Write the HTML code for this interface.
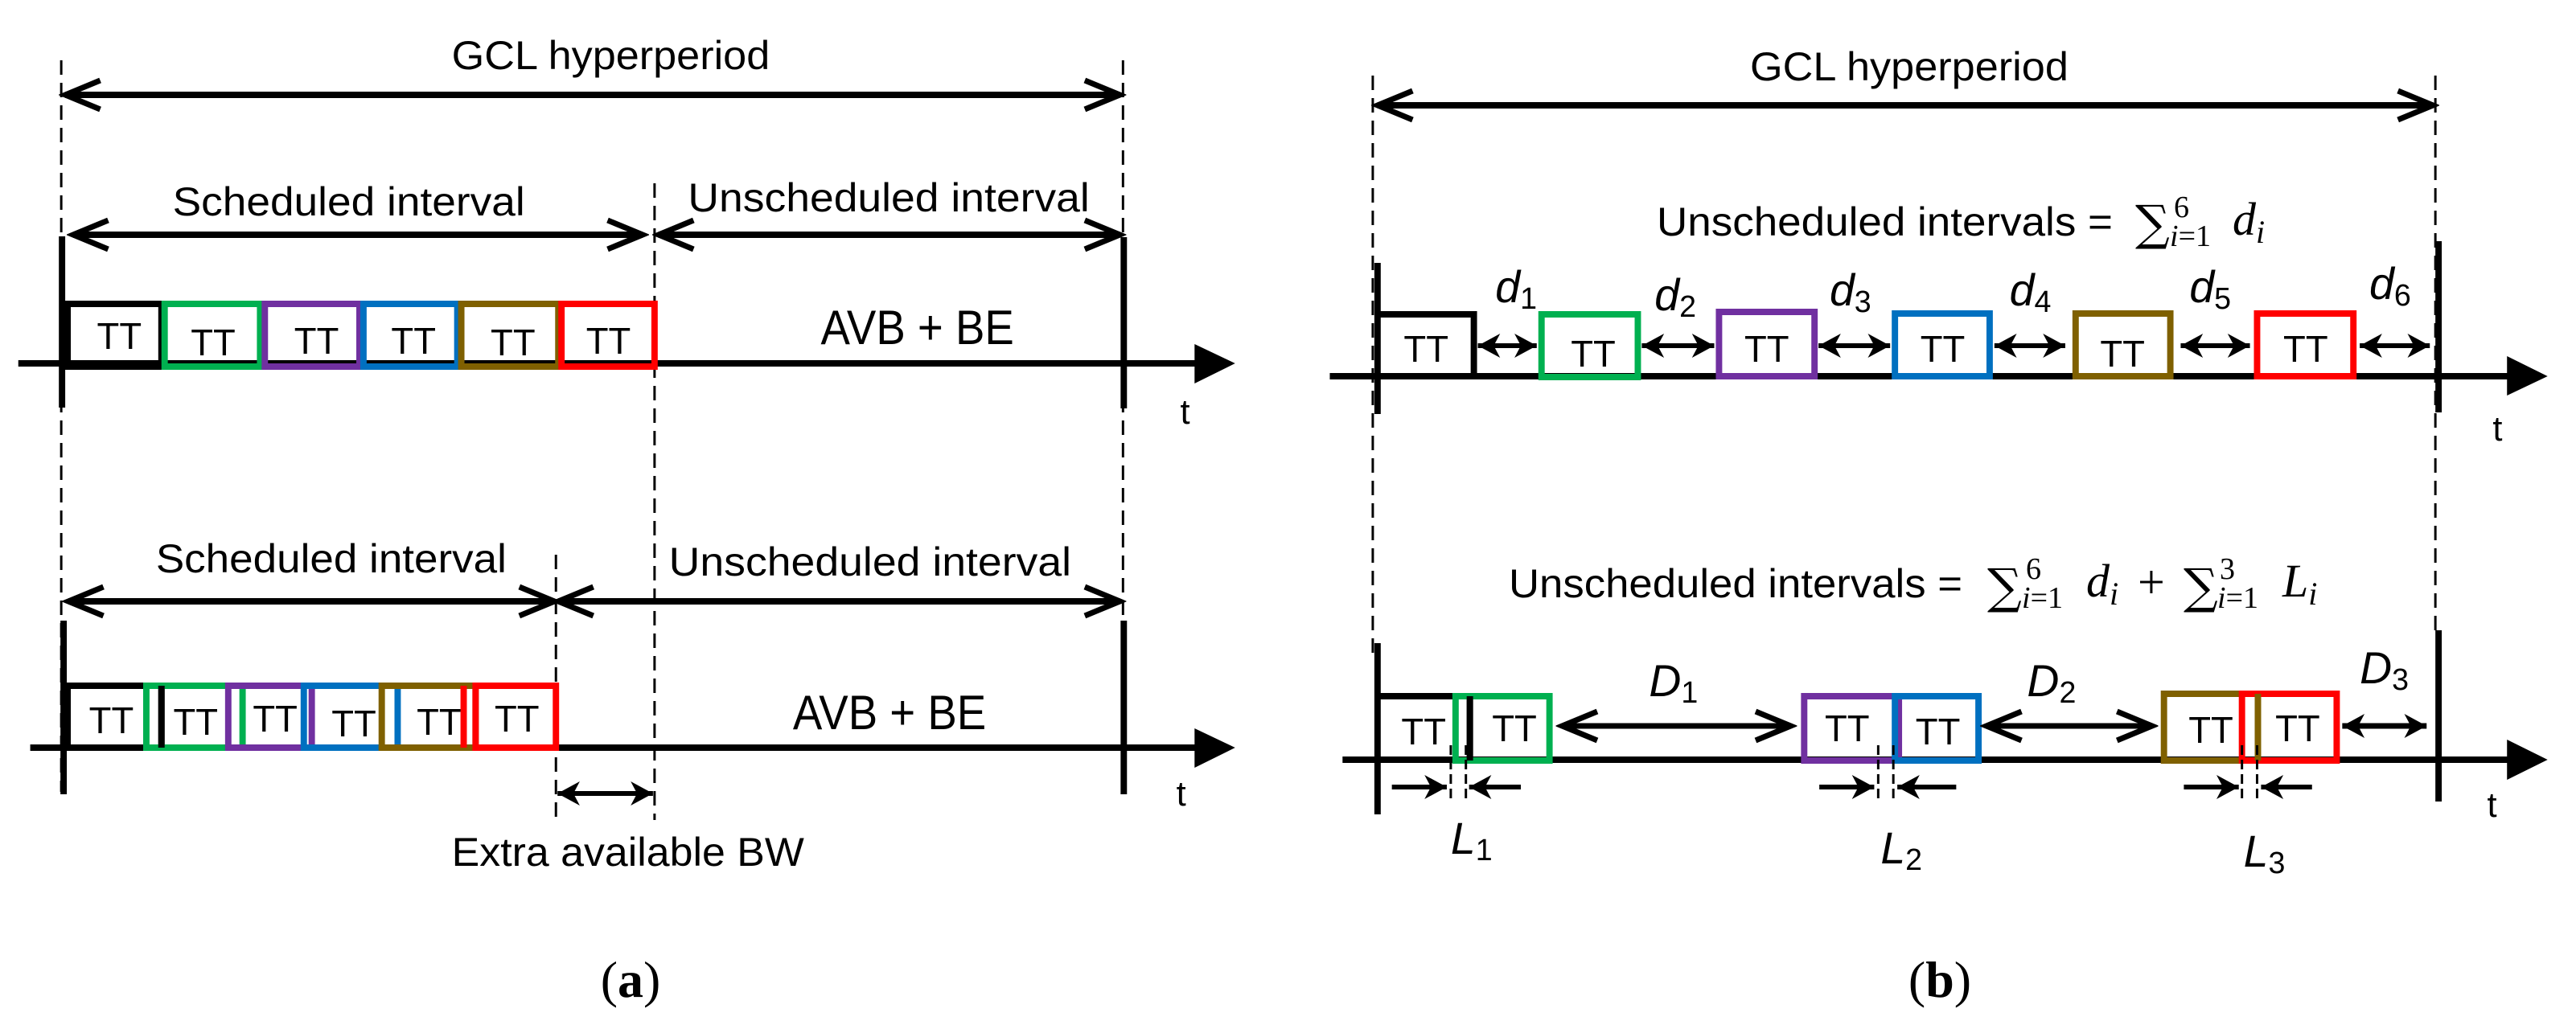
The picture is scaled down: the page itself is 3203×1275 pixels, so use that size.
<!DOCTYPE html>
<html><head><meta charset="utf-8"><style>
html,body{margin:0;padding:0;background:#fff;}
svg{display:block;}
text{font-family:"Liberation Sans Narrow","Liberation Sans",sans-serif;fill:#000;}
.m{font-family:"Liberation Serif",serif;font-style:italic;}
.tt{font-size:46px;text-anchor:middle;}
.s{font-family:"DejaVu Serif",serif;}
.r{font-family:"Liberation Serif",serif;}
</style></head><body>
<svg width="3203" height="1275" viewBox="0 0 3203 1275" xmlns="http://www.w3.org/2000/svg">
<defs>
<marker id="ch" markerUnits="userSpaceOnUse" viewBox="-52 -26 60 52" refX="0" refY="0" markerWidth="60" markerHeight="52" orient="auto-start-reverse">
<path d="M-44,-18 L0,0 L-44,18" fill="none" stroke="#000" stroke-width="7"/>
</marker>
<marker id="fh" markerUnits="userSpaceOnUse" viewBox="-32 -18 36 36" refX="0" refY="0" markerWidth="36" markerHeight="36" orient="auto-start-reverse">
<path d="M0,0 L-28,-15 L-20,0 L-28,15 Z" fill="#000"/>
</marker>
</defs>
<!-- ===== Panel a ===== -->
<g transform="scale(0.9889,1)">
<g fill="none" stroke="#000">
<line x1="77" y1="75" x2="77" y2="985" stroke-width="3" stroke-dasharray="18,10"/>
<line x1="1412" y1="75" x2="1412" y2="770" stroke-width="3" stroke-dasharray="18,10"/>
<line x1="823" y1="228" x2="823" y2="1020" stroke-width="3" stroke-dasharray="18,10"/>
<line x1="699" y1="690" x2="699" y2="1020" stroke-width="3" stroke-dasharray="18,10"/>
<line x1="82" y1="118" x2="1408" y2="118" stroke-width="8" marker-start="url(#ch)" marker-end="url(#ch)"/>
<line x1="92" y1="292" x2="808" y2="292" stroke-width="8" marker-start="url(#ch)" marker-end="url(#ch)"/>
<line x1="828" y1="292" x2="1408" y2="292" stroke-width="8" marker-start="url(#ch)" marker-end="url(#ch)"/>
<line x1="86" y1="748" x2="697" y2="748" stroke-width="8" marker-start="url(#ch)" marker-end="url(#ch)"/>
<line x1="702" y1="748" x2="1408" y2="748" stroke-width="8" marker-start="url(#ch)" marker-end="url(#ch)"/>
<line x1="701" y1="987" x2="821" y2="987" stroke-width="6" marker-start="url(#fh)" marker-end="url(#fh)"/>
<line x1="23" y1="452" x2="1505" y2="452" stroke-width="8"/>
<line x1="38" y1="930" x2="1505" y2="930" stroke-width="8"/>
<line x1="78" y1="294" x2="78" y2="507" stroke-width="8"/>
<line x1="1413" y1="295" x2="1413" y2="508" stroke-width="8"/>
<line x1="80" y1="772" x2="80" y2="988" stroke-width="8"/>
<line x1="1413" y1="772" x2="1413" y2="988" stroke-width="8"/>
<rect x="85" y="378" width="118" height="78" stroke="#000" stroke-width="8"/>
<rect x="207" y="378" width="120" height="78" stroke="#00b050" stroke-width="8"/>
<rect x="333" y="378" width="119" height="78" stroke="#7030a0" stroke-width="8"/>
<rect x="457" y="378" width="118" height="78" stroke="#0070c0" stroke-width="8"/>
<rect x="580" y="378" width="122" height="78" stroke="#7f6000" stroke-width="8"/>
<rect x="706" y="378" width="117" height="78" stroke="#ff0000" stroke-width="8"/>
<rect x="85" y="853" width="118" height="77" stroke="#000" stroke-width="8"/>
<rect x="184" y="853" width="121" height="77" stroke="#00b050" stroke-width="8"/>
<rect x="287" y="853" width="105" height="77" stroke="#7030a0" stroke-width="8"/>
<rect x="382" y="853" width="118" height="77" stroke="#0070c0" stroke-width="8"/>
<rect x="480" y="853" width="118" height="77" stroke="#7f6000" stroke-width="8"/>
<rect x="598" y="853" width="101" height="77" stroke="#ff0000" stroke-width="8"/>
<line x1="203" y1="853" x2="203" y2="930" stroke="#000" stroke-width="8"/>
<line x1="583" y1="853" x2="583" y2="930" stroke="#ff0000" stroke-width="8"/>
</g>
<polygon points="1502,428 1553,452 1502,477" fill="#000"/>
<polygon points="1502,906 1553,930 1502,955" fill="#000"/>
<text x="568" y="86" font-size="50" textLength="400" lengthAdjust="spacingAndGlyphs">GCL hyperperiod</text>
<text x="217" y="268" font-size="50" textLength="443" lengthAdjust="spacingAndGlyphs">Scheduled interval</text>
<text x="865" y="263" font-size="50" textLength="505" lengthAdjust="spacingAndGlyphs">Unscheduled interval</text>
<text x="196" y="712" font-size="50" textLength="441" lengthAdjust="spacingAndGlyphs">Scheduled interval</text>
<text x="841" y="716" font-size="50" textLength="506" lengthAdjust="spacingAndGlyphs">Unscheduled interval</text>
<text x="1032" y="428" font-size="60" textLength="243" lengthAdjust="spacingAndGlyphs">AVB + BE</text>
<text x="997" y="907" font-size="60" textLength="243" lengthAdjust="spacingAndGlyphs">AVB + BE</text>
<text x="1484" y="527" font-size="44">t</text>
<text x="1479" y="1002" font-size="44">t</text>
<text x="568" y="1077" font-size="50" textLength="443" lengthAdjust="spacingAndGlyphs">Extra available BW</text>
<g class="tt">
<text x="150" y="434">TT</text><text x="268" y="442">TT</text><text x="398" y="440">TT</text><text x="520" y="440">TT</text><text x="645" y="442">TT</text><text x="765" y="440">TT</text>
<text x="140" y="912">TT</text><text x="246" y="914">TT</text><text x="346" y="910">TT</text><text x="445" y="916">TT</text><text x="552" y="914">TT</text><text x="650" y="910">TT</text>
</g>
</g>
<text x="784" y="1240" font-size="64" text-anchor="middle" class="r">(<tspan font-weight="bold">a</tspan>)</text>

<!-- ===== Panel b ===== -->
<g transform="translate(16.5,0) scale(0.9897,1)">
<g fill="none" stroke="#000">
<line x1="1708" y1="94" x2="1708" y2="820" stroke-width="3" stroke-dasharray="18,10"/>
<line x1="3043" y1="94" x2="3043" y2="785" stroke-width="3" stroke-dasharray="18,10"/>
<line x1="1714" y1="131" x2="3040" y2="131" stroke-width="8" marker-start="url(#ch)" marker-end="url(#ch)"/>
<line x1="1654" y1="468" x2="3140" y2="468" stroke-width="8"/>
<line x1="1670" y1="945" x2="3140" y2="945" stroke-width="8"/>
<line x1="1714" y1="327" x2="1714" y2="515" stroke-width="8"/>
<line x1="3047" y1="300" x2="3047" y2="513" stroke-width="8"/>
<line x1="1714" y1="800" x2="1714" y2="1013" stroke-width="8"/>
<line x1="3047" y1="784" x2="3047" y2="997" stroke-width="8"/>
<path d="M1714,391 H1835 V469" stroke-width="8"/>
<rect x="1920" y="391" width="121" height="78" stroke="#00b050" stroke-width="8"/>
<rect x="2143" y="388" width="120" height="80" stroke="#7030a0" stroke-width="8"/>
<rect x="2364" y="390" width="119" height="78" stroke="#0070c0" stroke-width="8"/>
<rect x="2591" y="390" width="119" height="78" stroke="#7f6000" stroke-width="8"/>
<rect x="2819" y="390" width="121" height="78" stroke="#ff0000" stroke-width="8"/>
<line x1="1840" y1="430" x2="1914" y2="430" stroke-width="6" marker-start="url(#fh)" marker-end="url(#fh)"/>
<line x1="2046" y1="430" x2="2137" y2="430" stroke-width="6" marker-start="url(#fh)" marker-end="url(#fh)"/>
<line x1="2268" y1="430" x2="2358" y2="430" stroke-width="6" marker-start="url(#fh)" marker-end="url(#fh)"/>
<line x1="2489" y1="430" x2="2578" y2="430" stroke-width="6" marker-start="url(#fh)" marker-end="url(#fh)"/>
<line x1="2723" y1="430" x2="2810" y2="430" stroke-width="6" marker-start="url(#fh)" marker-end="url(#fh)"/>
<line x1="2948" y1="430" x2="3036" y2="430" stroke-width="6" marker-start="url(#fh)" marker-end="url(#fh)"/>
<path d="M1714,866 H1830 V946" stroke-width="8"/>
<rect x="1812" y="866" width="118" height="80" stroke="#00b050" stroke-width="8"/>
<line x1="1830" y1="866" x2="1830" y2="946" stroke="#000" stroke-width="8"/>
<rect x="2250" y="866" width="119" height="80" stroke="#7030a0" stroke-width="8"/>
<rect x="2364" y="866" width="105" height="80" stroke="#0070c0" stroke-width="8"/>
<rect x="2702" y="863" width="118" height="83" stroke="#7f6000" stroke-width="8"/>
<rect x="2800" y="863" width="119" height="83" stroke="#ff0000" stroke-width="8"/>
<line x1="2820" y1="863" x2="2820" y2="946" stroke="#7f6000" stroke-width="8"/>
<line x1="1946" y1="903" x2="2233" y2="903" stroke-width="7" marker-start="url(#ch)" marker-end="url(#ch)"/>
<line x1="2479" y1="903" x2="2687" y2="903" stroke-width="7" marker-start="url(#ch)" marker-end="url(#ch)"/>
<line x1="2926" y1="903" x2="3032" y2="903" stroke-width="7" marker-start="url(#fh)" marker-end="url(#fh)"/>
<line x1="1806" y1="927" x2="1806" y2="997" stroke-width="3" stroke-dasharray="12,6"/>
<line x1="1825" y1="927" x2="1825" y2="997" stroke-width="3" stroke-dasharray="12,6"/>
<line x1="1732" y1="979" x2="1801" y2="979" stroke-width="6" marker-end="url(#fh)"/>
<line x1="1894" y1="979" x2="1829" y2="979" stroke-width="6" marker-end="url(#fh)"/>
<line x1="2343" y1="927" x2="2343" y2="997" stroke-width="3" stroke-dasharray="12,6"/>
<line x1="2362" y1="927" x2="2362" y2="997" stroke-width="3" stroke-dasharray="12,6"/>
<line x1="2269" y1="979" x2="2338" y2="979" stroke-width="6" marker-end="url(#fh)"/>
<line x1="2441" y1="979" x2="2367" y2="979" stroke-width="6" marker-end="url(#fh)"/>
<line x1="2800" y1="927" x2="2800" y2="997" stroke-width="3" stroke-dasharray="12,6"/>
<line x1="2819" y1="927" x2="2819" y2="997" stroke-width="3" stroke-dasharray="12,6"/>
<line x1="2727" y1="979" x2="2796" y2="979" stroke-width="6" marker-end="url(#fh)"/>
<line x1="2888" y1="979" x2="2824" y2="979" stroke-width="6" marker-end="url(#fh)"/>
</g>
<polygon points="3133,443 3184,468 3133,492" fill="#000"/>
<polygon points="3133,920 3184,945 3133,970" fill="#000"/>
<text x="2182" y="100" font-size="50" textLength="400" lengthAdjust="spacingAndGlyphs">GCL hyperperiod</text>
<g font-size="56" class="m">
<text x="1862" y="376">d<tspan font-size="38" dy="8" font-style="normal">1</tspan></text>
<text x="2062" y="386">d<tspan font-size="38" dy="8" font-style="normal">2</tspan></text>
<text x="2282" y="380">d<tspan font-size="38" dy="8" font-style="normal">3</tspan></text>
<text x="2508" y="380">d<tspan font-size="38" dy="8" font-style="normal">4</tspan></text>
<text x="2734" y="376">d<tspan font-size="38" dy="8" font-style="normal">5</tspan></text>
<text x="2960" y="372">d<tspan font-size="38" dy="8" font-style="normal">6</tspan></text>
<text x="2055" y="866">D<tspan font-size="38" dy="8" font-style="normal">1</tspan></text>
<text x="2530" y="866">D<tspan font-size="38" dy="8" font-style="normal">2</tspan></text>
<text x="2948" y="850">D<tspan font-size="38" dy="8" font-style="normal">3</tspan></text>
<text x="1806" y="1062">L<tspan font-size="38" dy="8" font-style="normal">1</tspan></text>
<text x="2346" y="1074">L<tspan font-size="38" dy="8" font-style="normal">2</tspan></text>
<text x="2802" y="1078">L<tspan font-size="38" dy="8" font-style="normal">3</tspan></text>
</g>
<text x="3115" y="548" font-size="44">t</text>
<text x="3108" y="1016" font-size="44">t</text>
<g class="tt">
<text x="1775" y="450">TT</text><text x="1985" y="456">TT</text><text x="2203" y="450">TT</text><text x="2424" y="450">TT</text><text x="2650" y="456">TT</text><text x="2880" y="450">TT</text>
<text x="1772" y="926">TT</text><text x="1886" y="922">TT</text><text x="2304" y="922">TT</text><text x="2418" y="926">TT</text><text x="2761" y="924">TT</text><text x="2870" y="922">TT</text>
</g>
</g>
<!-- formulas (absolute coords) -->
<text x="2060" y="293" font-size="50" textLength="567" lengthAdjust="spacingAndGlyphs">Unscheduled intervals =</text>
<text x="2655" y="298" font-size="60" class="s">∑</text>
<text x="2703" y="270" font-size="38" class="r">6</text>
<text x="2698" y="306" font-size="38" class="r"><tspan font-style="italic">i</tspan>=1</text>
<text x="2776" y="292" font-size="58" class="m">d<tspan font-size="40" dy="10">i</tspan></text>

<text x="1876" y="743" font-size="50" textLength="564" lengthAdjust="spacingAndGlyphs">Unscheduled intervals =</text>
<text x="2471" y="750" font-size="60" class="s">∑</text>
<text x="2519" y="720" font-size="38" class="r">6</text>
<text x="2514" y="756" font-size="38" class="r"><tspan font-style="italic">i</tspan>=1</text>
<text x="2594" y="742" font-size="58" class="m">d<tspan font-size="40" dy="10">i</tspan></text>
<text x="2658" y="744" font-size="60" class="r">+</text>
<text x="2715" y="750" font-size="60" class="s">∑</text>
<text x="2760" y="720" font-size="38" class="r">3</text>
<text x="2757" y="756" font-size="38" class="r"><tspan font-style="italic">i</tspan>=1</text>
<text x="2838" y="742" font-size="58" class="m">L<tspan font-size="40" dy="10">i</tspan></text>

<text x="2412" y="1240" font-size="64" text-anchor="middle" class="r">(<tspan font-weight="bold">b</tspan>)</text>
</svg>
</body></html>
